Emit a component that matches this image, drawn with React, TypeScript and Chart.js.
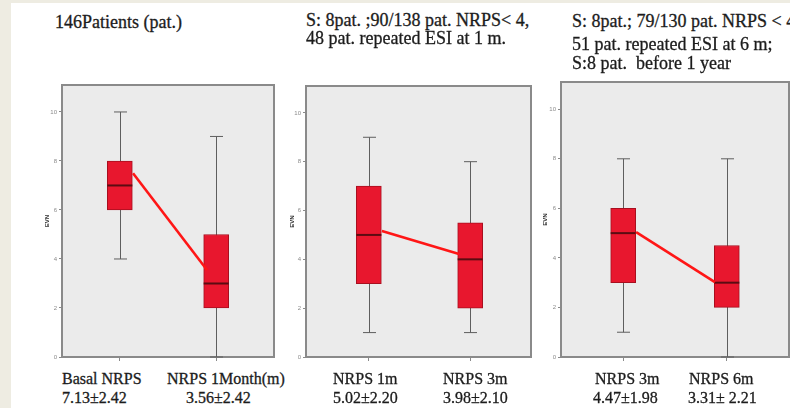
import React, { useEffect, useRef } from 'react';
import { Chart, registerables } from 'chart.js';

Chart.register(...registerables);
Chart.defaults.font.family = 'Liberation Sans';

// ---------- data ----------
const yTicks = [0, 2, 4, 6, 8, 10];
const boxPositions = [0, 1];

const p1Title = ['146Patients (pat.)'];
const p1Categories = ['Basal NRPS', 'NRPS 1Month(m)'];
const p1Stats = ['7.13±2.42', '3.56±2.42'];
const p1Min = [4, 0];
const p1Q1 = [6, 2];
const p1Median = [7, 3];
const p1Q3 = [8, 5];
const p1Max = [10, 9];
const p1LineX = [0.137, 0.905];
const p1LineY = [7.5, 3.55];

const p2Title = ['S: 8pat. ;90/138 pat. NRPS< 4,', '48 pat. repeated ESI at 1 m.'];
const p2Categories = ['NRPS 1m', 'NRPS 3m'];
const p2Stats = ['5.02±2.20', '3.98±2.10'];
const p2Min = [1, 1];
const p2Q1 = [3, 2];
const p2Median = [5, 4];
const p2Q3 = [7, 5.5];
const p2Max = [9, 8];
const p2LineX = [0.129, 0.89];
const p2LineY = [5.16, 4.22];

const p3Title = ['S: 8pat.; 79/130 pat. NRPS < 4', '51 pat. repeated ESI at 6 m;', 'S:8 pat.  before 1 year'];
const p3Categories = ['NRPS 3m', 'NRPS 6m'];
const p3Stats = ['4.47±1.98', '3.31± 2.21'];
const p3Min = [1, 0];
const p3Q1 = [3, 2];
const p3Median = [5, 3];
const p3Q3 = [6, 4.5];
const p3Max = [8, 8];
const p3LineX = [0.125, 0.885];
const p3LineY = [5.04, 3.02];

const yAxisTitle = 'EVN';

// ---------- layout / style ----------
const panels = [
  {
    data: { min: p1Min, q1: p1Q1, med: p1Median, q3: p1Q3, max: p1Max, lx: p1LineX, ly: p1LineY },
    title: p1Title, cats: p1Categories, stats: p1Stats,
    canvas: { left: 20, top: 75, w: 262, h: 292 },
    padding: { top: 10, right: 8, bottom: 2, left: 0 },
    yWidth: 42, xHeight: 8, titlePad: 23.4, xMin: -0.6, xMax: 1.6,
    titleLeft: 55, titleTops: [13],
    catLefts: [62, 167], statLefts: [62, 186],
  },
  {
    data: { min: p2Min, q1: p2Q1, med: p2Median, q3: p2Q3, max: p2Max, lx: p2LineX, ly: p2LineY },
    title: p2Title, cats: p2Categories, stats: p2Stats,
    canvas: { left: 270, top: 75, w: 270, h: 292 },
    padding: { top: 11, right: 9, bottom: 2, left: 0 },
    yWidth: 36, xHeight: 8, titlePad: 18.4, xMin: -0.62, xMax: 1.6,
    titleLeft: 306, titleTops: [11, 29],
    catLefts: [333, 443], statLefts: [333, 443],
  },
  {
    data: { min: p3Min, q1: p3Q1, med: p3Median, q3: p3Q3, max: p3Max, lx: p3LineX, ly: p3LineY },
    title: p3Title, cats: p3Categories, stats: p3Stats,
    canvas: { left: 525, top: 72, w: 265, h: 295 },
    padding: { top: 10, right: 1, bottom: 2, left: 0 },
    yWidth: 36, xHeight: 8, titlePad: 16.4, xMin: -0.6, xMax: 1.6,
    titleLeft: 572, titleTops: [11.5, 35, 54],
    catLefts: [595, 689], statLefts: [593, 688],
  },
];

const BOX_FILL = '#e8172e';
const BOX_EDGE = '#a80f1f';
const MEDIAN = '#5a0c12';
const WHISKER = '#5e5e5e';
const LINE_RED = '#ff1616';
const PLOT_BG = '#ebebeb';
const FRAME = '#8a8a8a';
const CAP_HALF = 6.5;

const framePlugin = {
  id: 'plotFrame',
  beforeDraw(chart: any) {
    const { ctx, chartArea: a } = chart;
    ctx.save();
    ctx.fillStyle = PLOT_BG;
    ctx.fillRect(a.left, a.top, a.right - a.left, a.bottom - a.top);
    ctx.strokeStyle = FRAME;
    ctx.lineWidth = 2;
    ctx.strokeRect(a.left, a.top, a.right - a.left, a.bottom - a.top);
    ctx.restore();
  },
};

const boxPlugin = {
  id: 'boxDecor',
  beforeDatasetsDraw(chart: any, _args: any, opts: any) {
    const { ctx } = chart;
    const xs = chart.scales.x;
    const ys = chart.scales.y;
    ctx.save();
    ctx.strokeStyle = WHISKER;
    ctx.lineWidth = 1;
    opts.pos.forEach((p: number, i: number) => {
      const px = Math.round(xs.getPixelForValue(p)) + 0.5;
      const y1 = ys.getPixelForValue(opts.min[i]);
      const y2 = ys.getPixelForValue(opts.max[i]);
      ctx.beginPath();
      ctx.moveTo(px, y1);
      ctx.lineTo(px, y2);
      ctx.moveTo(px - CAP_HALF, y1);
      ctx.lineTo(px + CAP_HALF, y1);
      ctx.moveTo(px - CAP_HALF, y2);
      ctx.lineTo(px + CAP_HALF, y2);
      ctx.stroke();
    });
    ctx.restore();
  },
  afterDatasetDraw(chart: any, args: any, opts: any) {
    if (args.meta.type !== 'bar') return;
    const { ctx } = chart;
    const ys = chart.scales.y;
    ctx.save();
    ctx.strokeStyle = MEDIAN;
    ctx.lineWidth = 2;
    args.meta.data.forEach((el: any, i: number) => {
      const py = ys.getPixelForValue(opts.med[i]);
      ctx.beginPath();
      ctx.moveTo(el.x - el.width / 2, py);
      ctx.lineTo(el.x + el.width / 2, py);
      ctx.stroke();
    });
    ctx.restore();
  },
};

function Panel({ cfg }: { cfg: any }) {
  const ref = useRef<HTMLCanvasElement>(null);
  useEffect(() => {
    const d = cfg.data;
    const chart = new Chart(ref.current as HTMLCanvasElement, {
      type: 'bar',
      data: {
        datasets: [
          {
            type: 'line',
            data: d.lx.map((x: number, i: number) => ({ x, y: d.ly[i] })),
            borderColor: LINE_RED,
            borderWidth: 2.6,
            pointRadius: 0,
            fill: false,
            tension: 0,
            order: 0,
          } as any,
          {
            type: 'bar',
            data: boxPositions.map((x, i) => ({ x, y: [d.q1[i], d.q3[i]] })),
            backgroundColor: BOX_FILL,
            borderColor: BOX_EDGE,
            borderWidth: 1,
            borderSkipped: false,
            barThickness: 25,
            order: 1,
          } as any,
        ],
      },
      options: {
        animation: false,
        responsive: false,
        maintainAspectRatio: false,
        layout: { padding: cfg.padding },
        plugins: {
          legend: { display: false },
          tooltip: { enabled: false },
          boxDecor: { pos: boxPositions, min: d.min, max: d.max, med: d.med },
        } as any,
        scales: {
          x: {
            type: 'linear',
            min: cfg.xMin,
            max: cfg.xMax,
            offset: false,
            afterBuildTicks: (s: any) => { s.ticks = boxPositions.map((v) => ({ value: v })); },
            afterFit: (s: any) => { s.height = cfg.xHeight; },
            ticks: { display: false },
            grid: { display: true, drawOnChartArea: false, drawTicks: true, tickLength: 4, color: FRAME, offset: false },
            border: { display: false },
          } as any,
          y: {
            type: 'linear',
            min: 0,
            max: 11.1,
            afterBuildTicks: (s: any) => { s.ticks = yTicks.map((v) => ({ value: v })); },
            afterFit: (s: any) => { s.width = cfg.yWidth; },
            ticks: { font: { size: 6 }, color: '#8a8a8a', padding: 2 },
            grid: { display: true, drawOnChartArea: false, drawTicks: true, tickLength: 3, color: FRAME },
            border: { display: false },
            title: {
              display: true,
              text: yAxisTitle,
              font: { size: 6, weight: 'bold' },
              color: '#333',
              padding: { top: cfg.titlePad, bottom: 0 },
            },
          } as any,
        },
      },
      plugins: [framePlugin, boxPlugin],
    });
    return () => chart.destroy();
  }, []);
  const c = cfg.canvas;
  return (
    <canvas
      ref={ref}
      width={c.w}
      height={c.h}
      style={{ position: 'absolute', left: c.left, top: c.top, width: c.w, height: c.h }}
    />
  );
}

const serif = '"Liberation Serif", "Times New Roman", serif';
const textBase: React.CSSProperties = {
  position: 'absolute',
  fontFamily: serif,
  color: '#1c1c1c',
  whiteSpace: 'pre',
  WebkitTextStroke: '0.3px #1c1c1c',
};

export default function App() {
  return (
    <div style={{ position: 'fixed', left: 0, top: 0, width: 790, height: 408, overflow: 'hidden', background: '#ffffff' }}>
      <div style={{ position: 'absolute', left: 0, top: 0, width: 790, height: 3, background: '#eeece2' }} />
      <div style={{ position: 'absolute', left: 0, top: 0, width: 11, height: 408, background: '#eeece2' }} />
      {panels.map((p, pi) => (
        <React.Fragment key={pi}>
          <Panel cfg={p} />
          {p.title.map((t, i) => (
            <div key={'t' + i} style={{ ...textBase, left: p.titleLeft, top: p.titleTops[i], fontSize: 18, lineHeight: '18px' }}>{t}</div>
          ))}
          {p.cats.map((t, i) => (
            <div key={'c' + i} style={{ ...textBase, left: p.catLefts[i], top: 370.6, fontSize: 16, lineHeight: '16px' }}>{t}</div>
          ))}
          {p.stats.map((t, i) => (
            <div key={'s' + i} style={{ ...textBase, left: p.statLefts[i], top: 389.6, fontSize: 16, lineHeight: '16px' }}>{t}</div>
          ))}
        </React.Fragment>
      ))}
    </div>
  );
}
